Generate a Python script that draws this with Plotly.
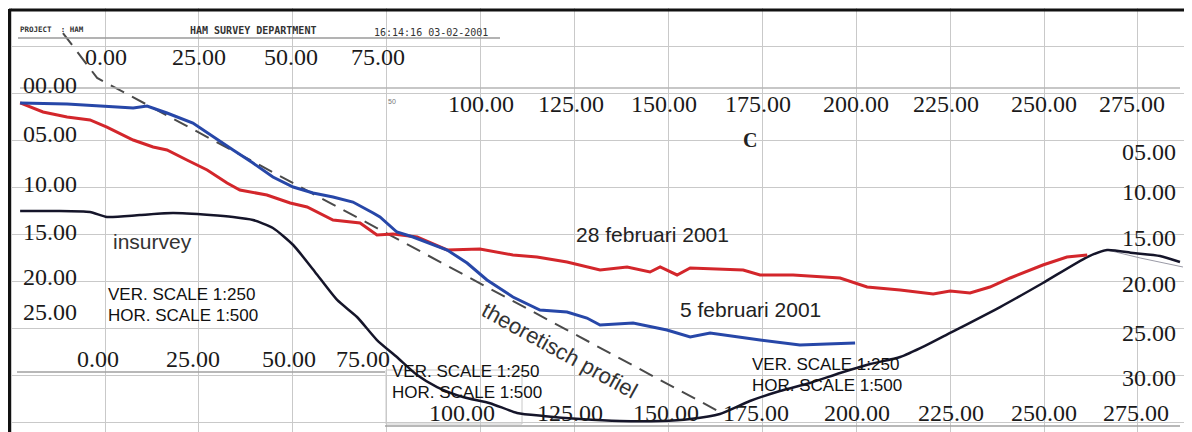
import plotly.graph_objects as go

# ---------------- data (distance in m, depth in m) ----------------
insurvey_dist = [-22.6, -13.3, -4.0, 0.5, 9.3, 18.1, 28.0, 34.1, 39.4, 44.7, 50.1, 55.9, 61.8, 67.1,
                 72.4, 77.7, 83.1, 88.4, 95.3, 102.5, 109.7, 116.6, 126.5, 137.1, 147.8, 155.8, 163.7,
                 171.7, 179.7, 187.7, 195.7, 203.7, 211.7, 218.3, 225.0, 238.3, 249.7, 261.5, 266.8,
                 273.7, 280.9, 286.2]
insurvey_depth = [12.55, 12.55, 12.66, 13.19, 12.98, 12.77, 12.98, 13.19, 13.51, 14.36, 16.17, 19.04,
                  22.02, 23.83, 26.28, 28.09, 30.0, 31.28, 32.34, 33.0, 34.04, 34.36, 34.68, 34.89,
                  34.89, 34.68, 34.15, 32.77, 31.70, 30.85, 29.79, 28.83, 28.09, 26.91, 25.53, 22.77,
                  20.21, 17.45, 16.70, 17.02, 17.34, 17.98]

shadow_dist = [266.8, 275.6, 287.0]
shadow_depth = [16.70, 17.55, 18.51]

feb28_dist = [-22.6, -16.5, -10.1, -4.0, 0.5, 7.5, 12.8, 16.5, 21.8, 27.2, 32.5, 35.9, 43.1, 49.3,
              53.8, 60.7, 67.9, 72.4, 76.7, 83.1, 91.1, 99.8, 108.6, 115.0, 123.0, 131.8, 139.0,
              145.1, 147.8, 152.3, 155.8, 169.9, 174.4, 183.2, 195.7, 202.9, 211.7, 220.5, 225.0,
              230.3, 235.6, 241.0, 249.7, 256.1, 261.5]
feb28_depth = [1.06, 2.02, 2.55, 2.87, 3.62, 5.0, 5.74, 6.06, 7.13, 8.19, 9.57, 10.32, 10.85, 11.70,
               12.13, 13.51, 13.83, 15.11, 15.0, 15.32, 16.70, 16.60, 17.23, 17.45, 17.98, 18.83,
               18.51, 19.04, 18.51, 19.36, 18.62, 18.83, 19.36, 19.36, 19.68, 20.64, 20.96, 21.38,
               21.06, 21.28, 20.64, 19.68, 18.30, 17.45, 17.23]

feb5_dist = [-22.6, -10.1, 3.2, 7.5, 11.2, 16.5, 23.4, 28.8, 34.1, 39.4, 44.7, 50.1, 55.4, 60.7,
             66.0, 71.4, 73.2, 77.7, 82.0, 91.1, 96.4, 101.7, 108.6, 115.8, 123.0, 128.3, 131.8,
             140.6, 149.6, 155.8, 161.1, 174.4, 185.0, 192.2, 199.7]
feb5_depth = [1.06, 1.17, 1.49, 1.60, 1.38, 2.13, 3.19, 4.68, 6.06, 7.45, 8.94, 10.0, 10.64, 11.06,
              11.60, 12.77, 13.19, 14.79, 15.32, 16.70, 18.09, 19.89, 21.70, 23.09, 23.30, 23.94,
              24.68, 24.47, 25.21, 25.96, 25.53, 26.28, 26.81, 26.70, 26.60]

theory_dist = [-11.2, -2.1, 163.7]
theory_depth = [-6.38, -1.60, 33.94]

top_dist_labels = ["0.00", "25.00", "50.00", "75.00"]
top_dist_labels2 = ["100.00", "125.00", "150.00", "175.00", "200.00", "225.00", "250.00", "275.00"]
left_depth_labels = ["00.00", "05.00", "10.00", "15.00", "20.00", "25.00"]
right_depth_labels = ["05.00", "10.00", "15.00", "20.00", "25.00", "30.00"]
bottom_dist_labels = ["0.00", "25.00", "50.00", "75.00"]
bottom_dist_labels2 = ["100.00", "125.00", "150.00", "175.00", "200.00", "225.00", "250.00", "275.00"]

# ---------------- layout helpers ----------------
W, H = 1192, 432
OFF = 8  # page body margin: figure origin sits 8px right/down in the window


def px(x):
    return (x - OFF) / W


def py(y):
    return 1 - (y - OFF) / H


RED = "#d3262b"
BLUE = "#2747a8"
BLACK = "#15152a"

fig = go.Figure()
fig.add_trace(go.Scatter(x=shadow_dist, y=shadow_depth, mode="lines",
                         line=dict(color="#9a9aa6", width=1), name="shadow"))
fig.add_trace(go.Scatter(x=theory_dist, y=theory_depth, mode="lines",
                         line=dict(color="#4a4a4a", width=2, dash="15px,9px"), name="theoretisch profiel"))
fig.add_trace(go.Scatter(x=insurvey_dist, y=insurvey_depth, mode="lines",
                         line=dict(color=BLACK, width=2.5, shape="spline", smoothing=0.6), name="insurvey"))
fig.add_trace(go.Scatter(x=feb28_dist, y=feb28_depth, mode="lines",
                         line=dict(color=RED, width=3), name="28 februari 2001"))
fig.add_trace(go.Scatter(x=feb5_dist, y=feb5_depth, mode="lines",
                         line=dict(color=BLUE, width=3), name="5 februari 2001"))

shapes = []
# white covers hiding grid where the scan has none (between grid and traces)
for (x0, y0, x1, y1) in [(0, 0, 1200, 86), (0, 330, 385, 440), (0, 0, 20, 440), (1182, 0, 1200, 440),
                         (0, 428, 1200, 440)]:
    shapes.append(dict(type="rect", xref="paper", yref="paper", x0=px(x0), x1=px(x1), y0=py(y1), y1=py(y0),
                       fillcolor="white", line=dict(width=0), layer="between"))
# frame lines and collage lines
line_specs = [
    (9, 10, 1200, 10, "#111111", 3),
    (9.5, 9, 9.5, 440, "#111111", 3),
    (1188, 12, 1188, 440, "#9a9a9a", 1),
    (18, 38, 500, 38, "#9a9a9a", 1.5),
    (20, 88, 1180, 88, "#b5b5b5", 1.5),
    (17, 372, 385, 372, "#a0a0a0", 1.5),
    (385, 426, 1180, 426, "#a0a0a0", 1.5),
]
for (x0, y0, x1, y1, c, w) in line_specs:
    shapes.append(dict(type="line", xref="paper", yref="paper", x0=px(x0), x1=px(x1), y0=py(y0), y1=py(y1),
                       line=dict(color=c, width=w), layer="above"))
shapes.append(dict(type="rect", xref="paper", yref="paper", x0=px(386), x1=px(522), y0=py(424), y1=py(370),
                   line=dict(color="#c8c8c8", width=1), layer="between"))

ann = []
SERIF = "Liberation Serif, Times New Roman, serif"
SANS = "Liberation Sans, Arial, sans-serif"


def txt(t, x, y, size, family, xanchor="center", color="#1a1a1a", angle=0, bold=False):
    ann.append(dict(text=("<b>%s</b>" % t) if bold else t, x=px(x), y=py(y), xref="paper", yref="paper",
                    showarrow=False, xanchor=xanchor, yanchor="middle", textangle=angle,
                    font=dict(size=size, family=family, color=color)))


# header
txt("PROJECT  : HAM", 18, 29, 7.5, "DejaVu Sans Mono", xanchor="left", color="#333", bold=True)
txt("HAM SURVEY DEPARTMENT", 188, 31, 10, "DejaVu Sans Mono", xanchor="left", color="#333", bold=True)
txt("16:14:16 03-02-2001", 372, 32, 10, "DejaVu Sans Mono", xanchor="left", color="#333")

for t, x in zip(top_dist_labels, [106, 199, 291, 378]):
    txt(t, x, 57, 24, SERIF)
for t, x in zip(top_dist_labels2, [481, 571, 664, 758, 856, 946, 1044, 1132]):
    txt(t, x, 104, 24, SERIF)
for t, y in zip(left_depth_labels, [85, 134, 184, 232, 277, 312]):
    txt(t, 21, y, 24, SERIF, xanchor="left")
for t, y in zip(right_depth_labels, [152, 192, 238, 284, 333, 378]):
    txt(t, 1178, y, 24, SERIF, xanchor="right")
for t, x in zip(bottom_dist_labels, [98, 193, 289, 363]):
    txt(t, x, 359, 24, SERIF)
for t, x in zip(bottom_dist_labels2, [462, 570, 666, 756, 857, 951, 1044, 1136]):
    txt(t, x, 413, 24, SERIF)

txt("50", 386, 102, 7, SANS, xanchor="left", color="#777")
txt("C", 750, 140, 20, SERIF, color="#222", bold=True)

txt("insurvey", 152, 242, 21, SANS, color="#333")
txt("28 februari 2001", 652, 235, 21, SANS, color="#222")
txt("5 februari 2001", 750, 309, 21, SANS, color="#222")
txt("theoretisch profiel", 560, 350, 22, SANS, color="#333", angle=29)
for (x, y) in [(106, 294), (390, 371), (750, 364)]:
    txt("VER. SCALE 1:250", x, y, 17, SANS, xanchor="left", color="#111")
    txt("HOR. SCALE 1:500", x, y + 21, 17, SANS, xanchor="left", color="#111")

fig.update_layout(
    width=W, height=H, margin=dict(l=0, r=0, t=0, b=0),
    paper_bgcolor="white", plot_bgcolor="white", showlegend=False, hovermode=False,
    shapes=shapes, annotations=ann,
    xaxis=dict(range=[-25.83, 291.53], showgrid=True, gridcolor="#c9c9c9", gridwidth=1, tick0=0, dtick=25,
               showticklabels=False, zeroline=False, showline=False, ticks=""),
    yaxis=dict(range=[36.915, -9.043], showgrid=True, gridcolor="#c9c9c9", gridwidth=1, tick0=0, dtick=5,
               showticklabels=False, zeroline=False, showline=False, ticks=""),
)

fig.write_html("out.html")
